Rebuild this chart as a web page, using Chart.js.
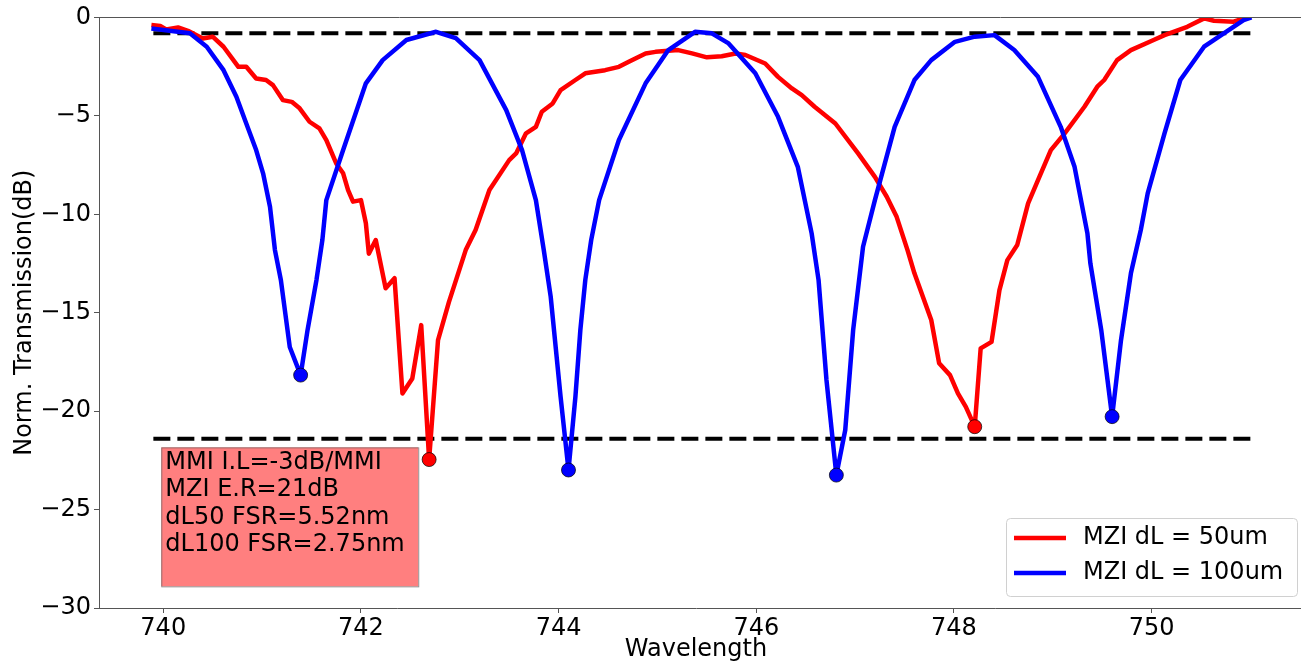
<!DOCTYPE html>
<html>
<head>
<meta charset="utf-8">
<script src="https://cdn.jsdelivr.net/npm/chart.js@4.4.1/dist/chart.umd.min.js"></script>
<style>
  html, body { margin: 0; padding: 0; background: #fff; }
  canvas { display: block; }
</style>
</head>
<body>
<canvas id="mziChart" width="1301" height="664"></canvas>
<script>
// wavelength (nm) and normalized transmission (dB)
const wlDL50 = [739.88, 739.97, 740.03, 740.15, 740.25, 740.40, 740.50, 740.61, 740.76, 740.84,
    740.94, 741.04, 741.11, 741.21, 741.30, 741.38, 741.48, 741.58, 741.65, 741.75,
    741.82, 741.87, 741.92, 742.00, 742.05, 742.08, 742.15, 742.25, 742.34, 742.42,
    742.52, 742.61, 742.69, 742.78, 742.89, 743.06, 743.16, 743.30, 743.50, 743.57,
    743.67, 743.77, 743.83, 743.94, 744.02, 744.17, 744.27, 744.47, 744.61, 744.71,
    744.88, 744.98, 745.21, 745.35, 745.50, 745.65, 745.79, 745.89, 746.09, 746.22,
    746.36, 746.46, 746.59, 746.80, 747.03, 747.20, 747.32, 747.42, 747.53, 747.60,
    747.77, 747.85, 747.96, 748.04, 748.12, 748.21, 748.27, 748.38, 748.46, 748.54,
    748.64, 748.75, 748.85, 748.98, 749.12, 749.32, 749.45, 749.52, 749.65, 749.79,
    750.02, 750.13, 750.36, 750.53, 750.63, 750.83, 750.93, 751.00];
const dbDL50 = [-0.39, -0.44, -0.61, -0.51, -0.68, -1.07, -0.98, -1.49, -2.51, -2.51,
    -3.10, -3.18, -3.44, -4.20, -4.29, -4.62, -5.30, -5.64, -6.23, -7.42,
    -7.92, -8.77, -9.36, -9.28, -10.46, -12.00, -11.31, -13.76, -13.25, -19.10,
    -18.34, -15.63, -22.46, -16.39, -14.46, -11.82, -10.80, -8.77, -7.25, -6.91,
    -5.89, -5.56, -4.79, -4.37, -3.69, -3.18, -2.84, -2.68, -2.51, -2.25,
    -1.83, -1.75, -1.66, -1.83, -2.03, -1.97, -1.83, -1.91, -2.34, -3.02,
    -3.61, -3.95, -4.54, -5.39, -6.91, -8.10, -9.11, -10.13, -11.82, -13.00,
    -15.37, -17.57, -18.17, -19.10, -19.78, -20.79, -16.81, -16.48, -13.85, -12.33,
    -11.56, -9.45, -8.26, -6.74, -5.89, -4.54, -3.52, -3.18, -2.17, -1.66,
    -1.15, -0.90, -0.48, -0.05, -0.17, -0.22, -0.05, 0.00];

const wlDL100 = [739.88, 740.27, 740.44, 740.61, 740.74, 740.84, 740.94, 741.01, 741.08, 741.13,
    741.19, 741.28, 741.39, 741.46, 741.55, 741.61, 741.65, 741.82, 742.05, 742.22,
    742.46, 742.76, 742.96, 743.20, 743.47, 743.63, 743.77, 743.85, 743.92, 744.02,
    744.10, 744.17, 744.22, 744.27, 744.33, 744.41, 744.61, 744.88, 745.11, 745.38,
    745.55, 745.72, 745.99, 746.22, 746.42, 746.56, 746.63, 746.71, 746.81, 746.90,
    746.98, 747.08, 747.20, 747.40, 747.60, 747.77, 748.01, 748.21, 748.41, 748.61,
    748.85, 749.08, 749.22, 749.35, 749.38, 749.49, 749.60, 749.69, 749.79, 749.89,
    749.96, 750.13, 750.29, 750.53, 750.73, 750.93, 751.01];
const dbDL100 = [-0.56, -0.81, -1.49, -2.68, -4.03, -5.39, -6.74, -7.92, -9.62, -11.82,
    -13.34, -16.74, -18.17, -15.88, -13.34, -11.30, -9.28, -6.74, -3.35, -2.17,
    -1.15, -0.73, -1.05, -2.17, -4.71, -6.74, -9.28, -11.82, -14.19, -19.27,
    -22.99, -19.27, -15.88, -13.34, -11.30, -9.28, -6.23, -3.35, -1.66, -0.73,
    -0.81, -1.32, -2.84, -5.05, -7.59, -10.97, -13.34, -18.42, -23.25, -20.96,
    -15.88, -11.65, -9.28, -5.56, -3.18, -2.17, -1.24, -0.98, -0.90, -1.66,
    -3.02, -5.56, -7.59, -10.97, -12.50, -15.88, -20.28, -16.39, -13.00, -10.80,
    -8.94, -5.89, -3.18, -1.49, -0.81, -0.14, 0.00];

// marked minima of each trace
const minWlDL50 = [742.69, 748.21];
const minDbDL50 = [-22.46, -20.79];
const minWlDL100 = [741.39, 744.10, 746.81, 749.60];
const minDbDL100 = [-18.17, -22.99, -23.25, -20.28];

// dashed reference levels
const refSpan = [739.9, 751.0];
const refLevels = [-0.8, -21.4];

const xTicks = [740, 742, 744, 746, 748, 750];
const yTicks = [-30, -25, -20, -15, -10, -5, 0];
const seriesLabels = ["MZI dL = 50um", "MZI dL = 100um"];
const noteLines = ["MMI I.L=-3dB/MMI", "MZI E.R=21dB", "dL50 FSR=5.52nm", "dL100 FSR=2.75nm"];
// note box corners in data units
const noteBox = { x0: 739.98, x1: 742.58, y0: -21.84, y1: -28.9 };

const RED = "#ff0000";
const BLUE = "#0000ff";
const FONT = "DejaVu Sans";
const FSIZE = 24;

Chart.defaults.font.family = FONT;
Chart.defaults.color = "#000";

function pts(xs, ys) {
    return xs.map((v, i) => ({ x: v, y: ys[i] }));
}

const refSets = refLevels.map(lv => ({
    data: pts(refSpan, [lv, lv]),
    borderColor: "#000",
    borderWidth: 4,
    borderDash: [17, 7],
    pointRadius: 0,
    order: 3
}));

const overlay = {
    id: "overlay",
    afterDatasetsDraw(chart) {
        const { ctx, chartArea: area, scales: { x, y } } = chart;
        ctx.save();

        // top spine, and the axes run on past the canvas edge like the original
        ctx.strokeStyle = "#555";
        ctx.lineWidth = 1;
        ctx.beginPath();
        ctx.moveTo(area.left, Math.round(area.top) + 0.5);
        ctx.lineTo(chart.width, Math.round(area.top) + 0.5);
        ctx.moveTo(area.right - 1, Math.round(area.bottom) + 0.5);
        ctx.lineTo(chart.width, Math.round(area.bottom) + 0.5);
        ctx.stroke();

        // note box
        const bx = x.getPixelForValue(noteBox.x0);
        const by = y.getPixelForValue(noteBox.y0);
        const bw = x.getPixelForValue(noteBox.x1) - bx;
        const bh = y.getPixelForValue(noteBox.y1) - by;
        ctx.fillStyle = "rgba(255, 0, 0, 0.5)";
        ctx.fillRect(bx, by, bw, bh);
        ctx.strokeStyle = "rgba(80, 80, 80, 0.6)";
        ctx.strokeRect(bx + 0.5, by + 0.5, bw, bh);
        ctx.fillStyle = "#000";
        ctx.font = FSIZE + "px " + FONT;
        ctx.textBaseline = "middle";
        ctx.textAlign = "left";
        noteLines.forEach((t, i) => ctx.fillText(t, bx + 4, by + 15 + i * 27.6));

        // legend
        const lw = 291, lh = 78;
        const lx = 1006;
        const ly = area.bottom - 12 - lh;
        ctx.fillStyle = "rgba(255, 255, 255, 0.85)";
        ctx.strokeStyle = "#d0d0d0";
        ctx.beginPath();
        ctx.roundRect(lx + 0.5, ly + 0.5, lw, lh, 4);
        ctx.fill();
        ctx.stroke();
        [RED, BLUE].forEach((c, i) => {
            const yy = ly + 20 + i * 35;
            ctx.strokeStyle = c;
            ctx.lineWidth = 4.5;
            ctx.beginPath();
            ctx.moveTo(lx + 8, yy);
            ctx.lineTo(lx + 60, yy);
            ctx.stroke();
            ctx.fillStyle = "#000";
            ctx.fillText(seriesLabels[i], lx + 77, yy);
        });
        ctx.restore();
    }
};

new Chart(document.getElementById("mziChart"), {
    type: "line",
    data: {
        datasets: [
            {
                type: "scatter",
                data: pts(minWlDL100, minDbDL100),
                backgroundColor: BLUE,
                borderColor: "rgba(0,0,0,0.7)",
                borderWidth: 1,
                pointRadius: 7,
                order: 0
            },
            {
                type: "scatter",
                data: pts(minWlDL50, minDbDL50),
                backgroundColor: RED,
                borderColor: "rgba(0,0,0,0.7)",
                borderWidth: 1,
                pointRadius: 7,
                order: 0
            },
            {
                label: seriesLabels[1],
                data: pts(wlDL100, dbDL100),
                borderColor: BLUE,
                borderWidth: 4.5,
                borderJoinStyle: "round",
                pointRadius: 0,
                tension: 0,
                order: 1
            },
            {
                label: seriesLabels[0],
                data: pts(wlDL50, dbDL50),
                borderColor: RED,
                borderWidth: 4.5,
                borderJoinStyle: "round",
                pointRadius: 0,
                tension: 0,
                order: 2
            },
            ...refSets
        ]
    },
    options: {
        responsive: false,
        animation: false,
        layout: { padding: { top: 17, right: 0, left: 0, bottom: 0 } },
        plugins: {
            legend: { display: false },
            tooltip: { enabled: false }
        },
        scales: {
            x: {
                type: "linear",
                min: 739.35,
                max: 751.43,
                afterBuildTicks: s => { s.ticks = xTicks.map(v => ({ value: v })); },
                afterFit: s => { s.height = 56; },
                grid: { drawOnChartArea: false, tickLength: 5, color: "#555" },
                border: { color: "#555" },
                ticks: { font: { size: FSIZE }, color: "#000", padding: 1, maxRotation: 0 },
                title: { display: true, text: "Wavelength", font: { size: FSIZE }, color: "#000", padding: 0 }
            },
            y: {
                min: -30,
                max: 0,
                afterBuildTicks: s => { s.ticks = yTicks.map(v => ({ value: v })); },
                afterFit: s => { s.width = 99; },
                grid: { drawOnChartArea: false, tickLength: 5, color: "#555" },
                border: { color: "#555" },
                ticks: {
                    font: { size: FSIZE },
                    color: "#000",
                    padding: 3,
                    callback: v => (v < 0 ? "\u2212" + Math.abs(v) : String(v))
                },
                title: {
                    display: true, text: "Norm. Transmission(dB)",
                    font: { size: FSIZE }, color: "#000", padding: { top: 10, bottom: 0 }
                }
            }
        }
    },
    plugins: [overlay]
});
</script>
</body>
</html>
